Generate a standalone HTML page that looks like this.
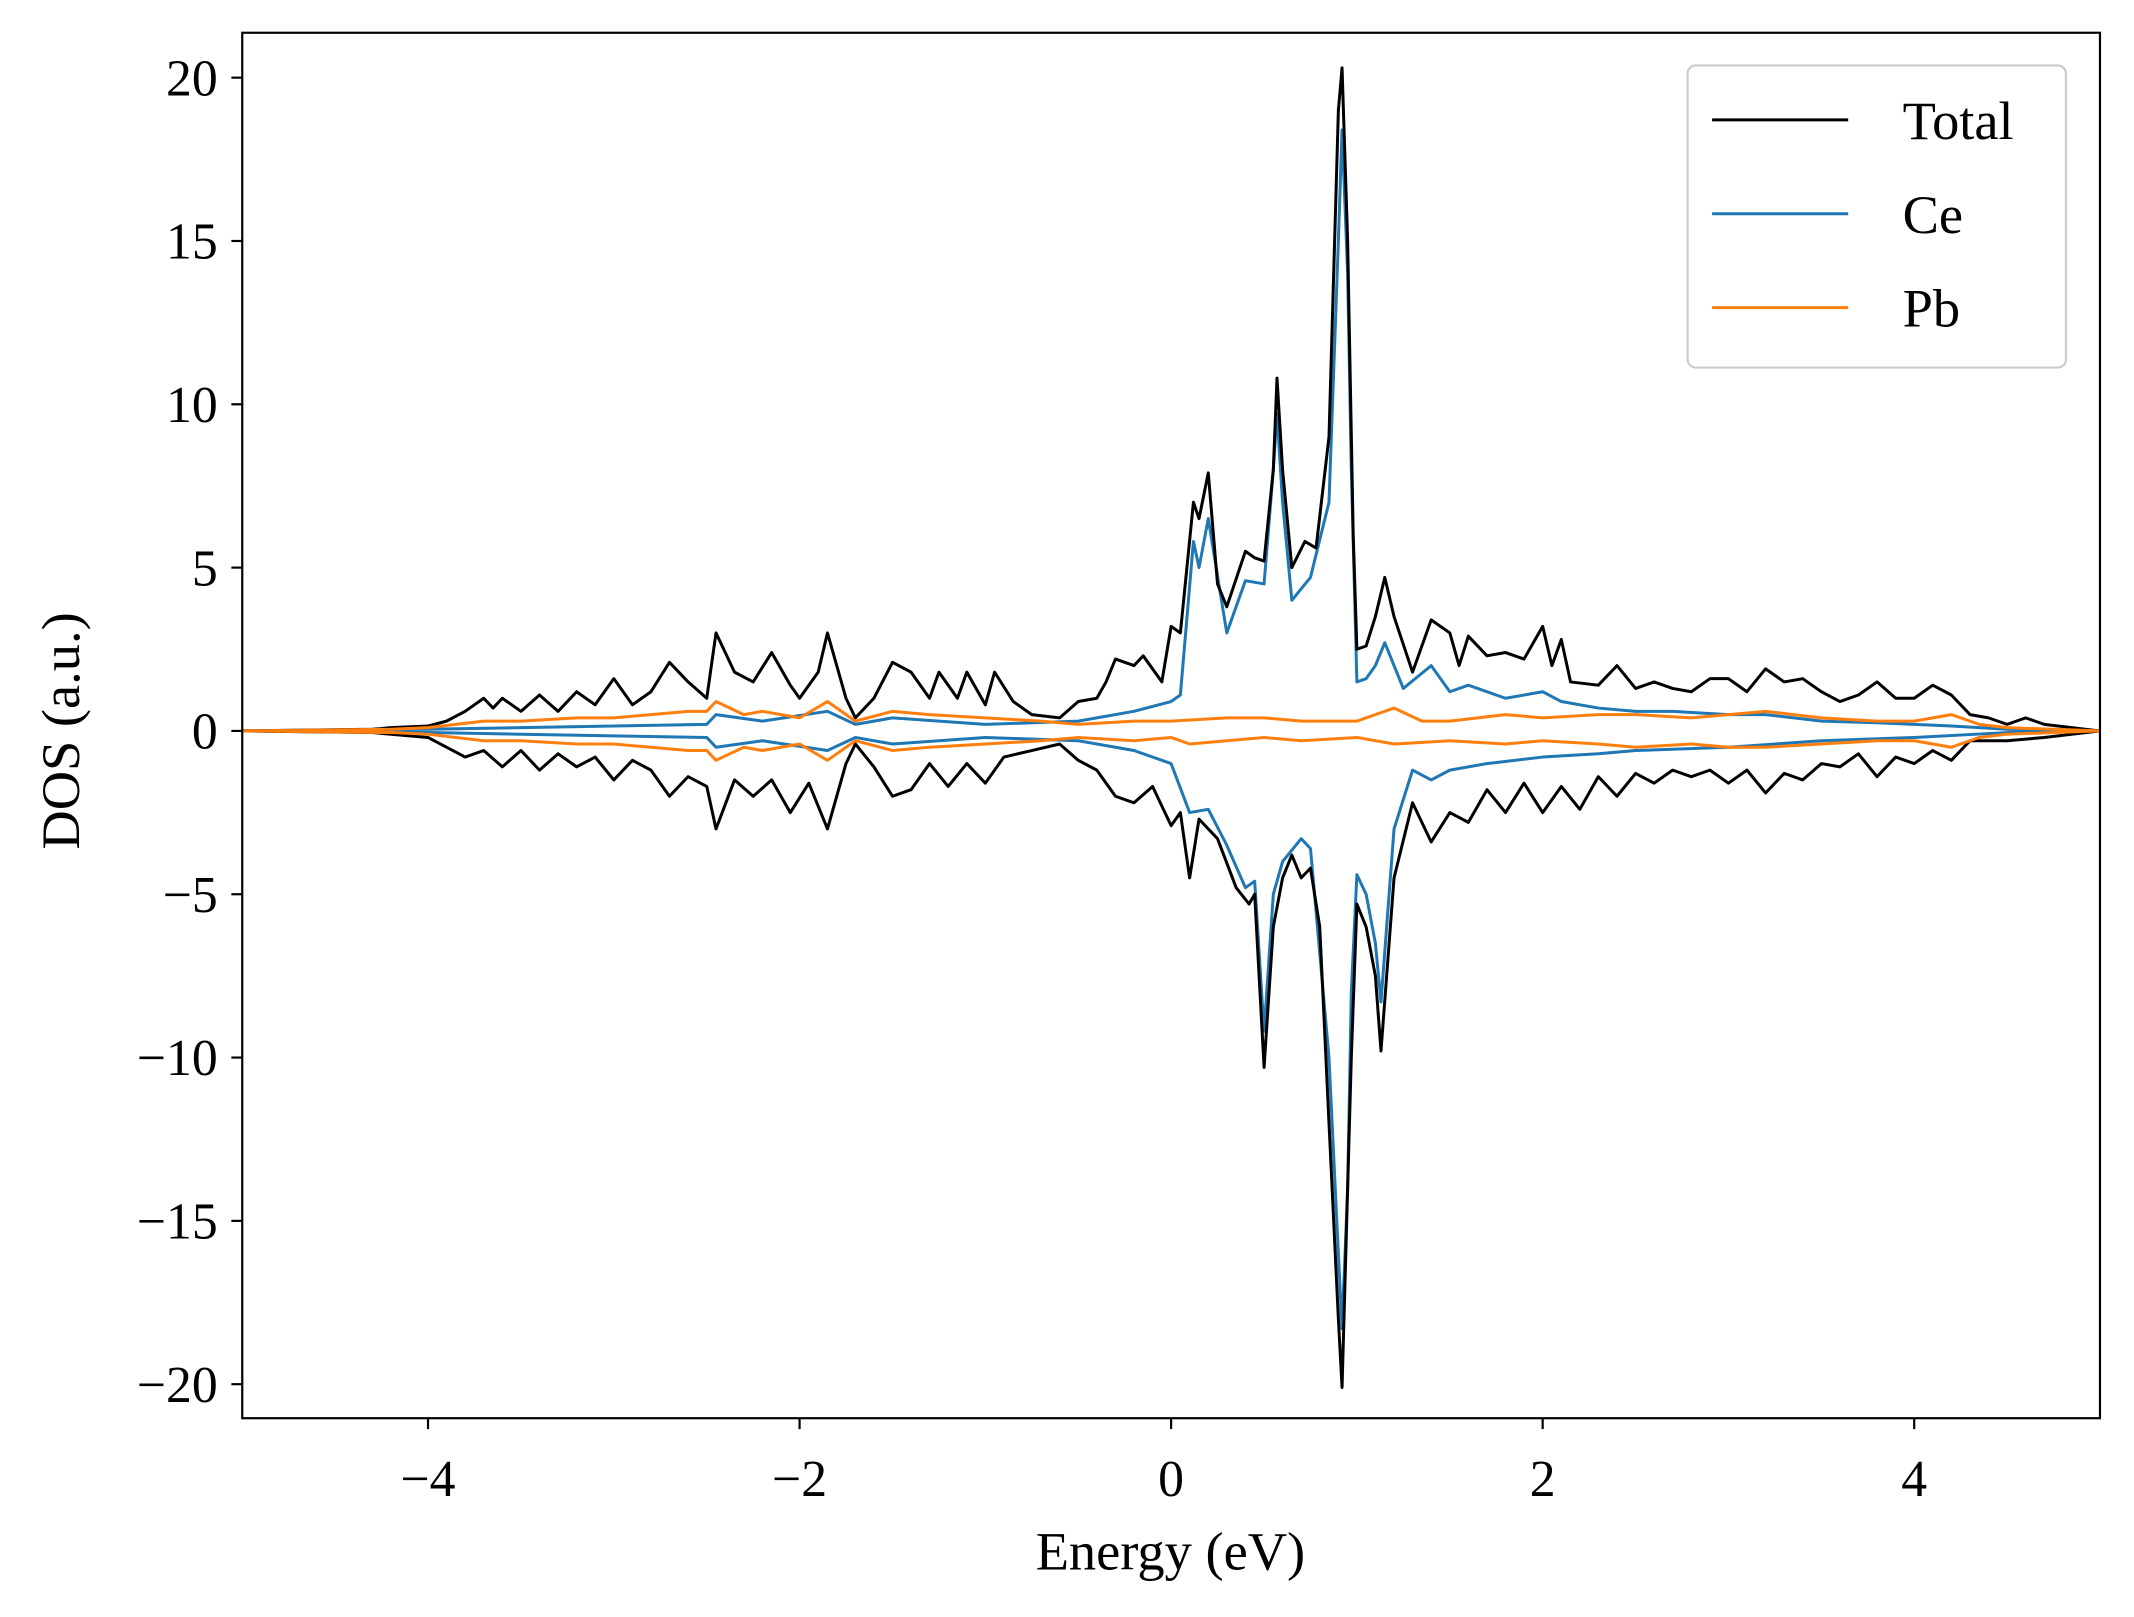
<!DOCTYPE html>
<html><head><meta charset="utf-8"><style>
html,body{margin:0;padding:0;background:#fff}
svg{display:block}
text{font-family:"Liberation Serif",serif;fill:#000}
</style></head><body>
<svg id="chart" width="2134" height="1617" viewBox="0 0 1568 1188" xmlns="http://www.w3.org/2000/svg">
<rect width="1568" height="1188" fill="#fff"/>
<g id="plot"></g>
<rect x="178" y="24" width="1365" height="1018" fill="none" stroke="#000" stroke-width="1.6"/>
<g id="ticks"></g>
<text x="860" y="1153" font-size="40" text-anchor="middle">Energy (eV)</text>
<text transform="translate(58,537) rotate(-90)" font-size="40" text-anchor="middle">DOS (a.u.)</text>
<g>
<rect x="1240" y="48" width="278" height="222" rx="6" fill="#fff" stroke="#ccc" stroke-width="1.6"/>
<line x1="1258" y1="88" x2="1358" y2="88" stroke="#000" stroke-width="2.2"/>
<text x="1398" y="102" font-size="40">Total</text>
<line x1="1258" y1="157" x2="1358" y2="157" stroke="#1f77b4" stroke-width="2.2"/>
<text x="1398" y="171" font-size="40">Ce</text>
<line x1="1258" y1="226" x2="1358" y2="226" stroke="#ff7f0e" stroke-width="2.2"/>
<text x="1398" y="240" font-size="40">Pb</text>
</g>
</svg>
<script>
const xTicks=[-4,-2,0,2,4];
const yTicks=[-20,-15,-10,-5,0,5,10,15,20];
const totalUpE=[-5,-4.3,-4.2,-4.0,-3.9,-3.8,-3.7,-3.65,-3.6,-3.5,-3.4,-3.3,-3.2,-3.1,-3.0,-2.9,-2.8,-2.7,-2.6,-2.5,-2.45,-2.35,-2.25,-2.15,-2.05,-2.0,-1.9,-1.85,-1.75,-1.7,-1.6,-1.5,-1.4,-1.3,-1.25,-1.15,-1.1,-1.0,-0.95,-0.85,-0.75,-0.6,-0.5,-0.4,-0.35,-0.3,-0.2,-0.15,-0.05,0.0,0.05,0.12,0.15,0.2,0.25,0.3,0.4,0.45,0.5,0.55,0.57,0.6,0.65,0.72,0.78,0.85,0.9,0.92,0.95,0.98,1.0,1.05,1.1,1.15,1.2,1.3,1.4,1.5,1.55,1.6,1.7,1.8,1.9,2.0,2.05,2.1,2.15,2.3,2.4,2.5,2.6,2.7,2.8,2.9,3.0,3.1,3.2,3.3,3.4,3.5,3.6,3.7,3.8,3.9,4.0,4.1,4.2,4.3,4.4,4.5,4.6,4.7,5.0];
const totalUpV=[0,0.05,0.1,0.15,0.3,0.6,1.0,0.7,1.0,0.6,1.1,0.6,1.2,0.8,1.6,0.8,1.2,2.1,1.5,1.0,3.0,1.8,1.5,2.4,1.4,1.0,1.8,3.0,1.0,0.4,1.0,2.1,1.8,1.0,1.8,1.0,1.8,0.8,1.8,0.9,0.5,0.4,0.9,1.0,1.5,2.2,2.0,2.3,1.5,3.2,3.0,7.0,6.5,7.9,4.5,3.8,5.5,5.3,5.2,8.0,10.8,8.0,5.0,5.8,5.6,9,19,20.3,15,6,2.5,2.6,3.5,4.7,3.5,1.8,3.4,3.0,2.0,2.9,2.3,2.4,2.2,3.2,2.0,2.8,1.5,1.4,2.0,1.3,1.5,1.3,1.2,1.6,1.6,1.2,1.9,1.5,1.6,1.2,0.9,1.1,1.5,1.0,1.0,1.4,1.1,0.5,0.4,0.2,0.4,0.2,0];
const totalDnE=[-5,-4.3,-4.0,-3.8,-3.7,-3.6,-3.5,-3.4,-3.3,-3.2,-3.1,-3.0,-2.9,-2.8,-2.7,-2.6,-2.5,-2.45,-2.35,-2.25,-2.15,-2.05,-1.95,-1.85,-1.75,-1.7,-1.6,-1.5,-1.4,-1.3,-1.2,-1.1,-1.0,-0.9,-0.75,-0.6,-0.5,-0.4,-0.3,-0.2,-0.1,0.0,0.05,0.1,0.15,0.25,0.35,0.42,0.45,0.5,0.55,0.6,0.65,0.7,0.75,0.8,0.85,0.9,0.92,0.95,0.97,1.0,1.05,1.1,1.13,1.2,1.3,1.4,1.5,1.6,1.7,1.8,1.9,2.0,2.1,2.2,2.3,2.4,2.5,2.6,2.7,2.8,2.9,3.0,3.1,3.2,3.3,3.4,3.5,3.6,3.7,3.8,3.9,4.0,4.1,4.2,4.3,4.5,4.7,5.0];
const totalDnV=[0,-0.05,-0.2,-0.8,-0.6,-1.1,-0.6,-1.2,-0.7,-1.1,-0.8,-1.5,-0.9,-1.2,-2.0,-1.4,-1.7,-3.0,-1.5,-2.0,-1.5,-2.5,-1.6,-3.0,-1.0,-0.4,-1.1,-2.0,-1.8,-1.0,-1.7,-1.0,-1.6,-0.8,-0.6,-0.4,-0.9,-1.2,-2.0,-2.2,-1.7,-2.9,-2.5,-4.5,-2.7,-3.3,-4.8,-5.3,-5.0,-10.3,-6.0,-4.5,-3.8,-4.5,-4.2,-6.0,-12,-18,-20.1,-14,-10,-5.3,-6.0,-7.5,-9.8,-4.5,-2.2,-3.4,-2.5,-2.8,-1.8,-2.5,-1.6,-2.5,-1.7,-2.4,-1.4,-2.0,-1.3,-1.6,-1.2,-1.4,-1.2,-1.6,-1.2,-1.9,-1.3,-1.5,-1.0,-1.1,-0.7,-1.4,-0.8,-1.0,-0.6,-0.9,-0.3,-0.3,-0.2,0];
const ceUpE=[-5,-4.0,-3.5,-3.0,-2.5,-2.45,-2.2,-1.85,-1.7,-1.5,-1.0,-0.5,-0.2,0.0,0.05,0.12,0.15,0.2,0.3,0.4,0.5,0.55,0.57,0.6,0.65,0.75,0.85,0.9,0.92,0.95,0.97,1.0,1.05,1.1,1.15,1.25,1.4,1.5,1.6,1.8,2.0,2.1,2.3,2.5,2.7,3.0,3.2,3.5,3.8,4.0,4.2,4.5,5.0];
const ceUpV=[0,0.05,0.1,0.15,0.2,0.5,0.3,0.6,0.2,0.4,0.2,0.3,0.6,0.9,1.1,5.8,5.0,6.5,3.0,4.6,4.5,8.0,9.7,7.0,4.0,4.7,7,15,18.4,14,8,1.5,1.6,2.0,2.7,1.3,2.0,1.2,1.4,1.0,1.2,0.9,0.7,0.6,0.6,0.5,0.5,0.3,0.25,0.2,0.15,0.05,0];
const ceDnE=[-5,-4.0,-3.5,-3.0,-2.5,-2.45,-2.2,-1.85,-1.7,-1.5,-1.0,-0.5,-0.2,0.0,0.1,0.2,0.3,0.4,0.45,0.5,0.55,0.6,0.7,0.75,0.85,0.9,0.92,0.95,0.97,1.0,1.05,1.1,1.13,1.2,1.3,1.4,1.5,1.7,2.0,2.3,2.5,3.0,3.5,4.0,4.5,5.0];
const ceDnV=[0,-0.05,-0.1,-0.15,-0.2,-0.5,-0.3,-0.6,-0.2,-0.4,-0.2,-0.3,-0.6,-1.0,-2.5,-2.4,-3.5,-4.8,-4.6,-9.2,-5.0,-4.0,-3.3,-3.6,-10,-16,-18.3,-14,-8,-4.4,-5.0,-6.5,-8.3,-3.0,-1.2,-1.5,-1.2,-1.0,-0.8,-0.7,-0.6,-0.5,-0.3,-0.2,-0.05,0];
const pbUpE=[-5,-4.2,-4,-3.7,-3.5,-3.2,-3,-2.8,-2.6,-2.5,-2.45,-2.3,-2.2,-2.0,-1.85,-1.7,-1.5,-1.3,-1.0,-0.7,-0.5,-0.2,0,0.3,0.5,0.7,1.0,1.2,1.35,1.5,1.8,2.0,2.3,2.5,2.8,3.0,3.2,3.5,3.8,4.0,4.2,4.35,4.5,5.0];
const pbUpV=[0,0.05,0.1,0.3,0.3,0.4,0.4,0.5,0.6,0.6,0.9,0.5,0.6,0.4,0.9,0.3,0.6,0.5,0.4,0.3,0.2,0.3,0.3,0.4,0.4,0.3,0.3,0.7,0.3,0.3,0.5,0.4,0.5,0.5,0.4,0.5,0.6,0.4,0.3,0.3,0.5,0.2,0.1,0];
const pbDnE=[-5,-4.2,-4,-3.7,-3.5,-3.2,-3,-2.8,-2.6,-2.5,-2.45,-2.3,-2.2,-2.0,-1.85,-1.7,-1.5,-1.3,-1.0,-0.7,-0.5,-0.2,0,0.1,0.3,0.5,0.7,1.0,1.2,1.5,1.8,2.0,2.3,2.5,2.8,3.0,3.2,3.5,3.8,4.0,4.2,4.35,4.5,5.0];
const pbDnV=[0,-0.05,-0.1,-0.3,-0.3,-0.4,-0.4,-0.5,-0.6,-0.6,-0.9,-0.5,-0.6,-0.4,-0.9,-0.3,-0.6,-0.5,-0.4,-0.3,-0.2,-0.3,-0.2,-0.4,-0.3,-0.2,-0.3,-0.2,-0.4,-0.3,-0.4,-0.3,-0.4,-0.5,-0.4,-0.5,-0.5,-0.4,-0.3,-0.3,-0.5,-0.2,-0.1,0];

const NS='http://www.w3.org/2000/svg';
function xs(e){return 178+(e+5)*(1365/10);}
function ys(v){return 537-v*24;}
const plot=document.getElementById('plot');
const ticks=document.getElementById('ticks');
function line(E,V,color,name){
  const p=document.createElementNS(NS,'polyline');
  p.setAttribute('points',E.map((e,i)=>xs(e).toFixed(1)+','+ys(V[i]).toFixed(1)).join(' '));
  p.setAttribute('fill','none');p.setAttribute('stroke',color);p.setAttribute('stroke-width','2.2');p.setAttribute('stroke-linejoin','round');
  
  
  plot.appendChild(p);
}
line(ceUpE,ceUpV,'#1f77b4','ce-up-line');
line(ceDnE,ceDnV,'#1f77b4','ce-down-line');
line(totalUpE,totalUpV,'#000','total-up-line');
line(totalDnE,totalDnV,'#000','total-down-line');
line(pbUpE,pbUpV,'#ff7f0e','pb-up-line');
line(pbDnE,pbDnV,'#ff7f0e','pb-down-line');
function lab(v){return v<0?'\u2212'+(-v):String(v);}
xTicks.forEach(t=>{
  const l=document.createElementNS(NS,'line');
  l.setAttribute('x1',xs(t));l.setAttribute('x2',xs(t));l.setAttribute('y1',1042);l.setAttribute('y2',1050);l.setAttribute('stroke','#000');l.setAttribute('stroke-width','1.6');
  
  
  ticks.appendChild(l);
  const tx=document.createElementNS(NS,'text');
  tx.setAttribute('x',xs(t));tx.setAttribute('y',1099);tx.setAttribute('font-size','38');tx.setAttribute('text-anchor','middle');
  tx.textContent=lab(t);
  
  
  ticks.appendChild(tx);
});
yTicks.forEach(t=>{
  const l=document.createElementNS(NS,'line');
  l.setAttribute('x1',170);l.setAttribute('x2',178);l.setAttribute('y1',ys(t));l.setAttribute('y2',ys(t));l.setAttribute('stroke','#000');l.setAttribute('stroke-width','1.6');
  
  
  ticks.appendChild(l);
  const tx=document.createElementNS(NS,'text');
  tx.setAttribute('x',160);tx.setAttribute('y',ys(t)+13);tx.setAttribute('font-size','38');tx.setAttribute('text-anchor','end');
  tx.textContent=lab(t);
  
  
  ticks.appendChild(tx);
});
</script>
</body></html>
